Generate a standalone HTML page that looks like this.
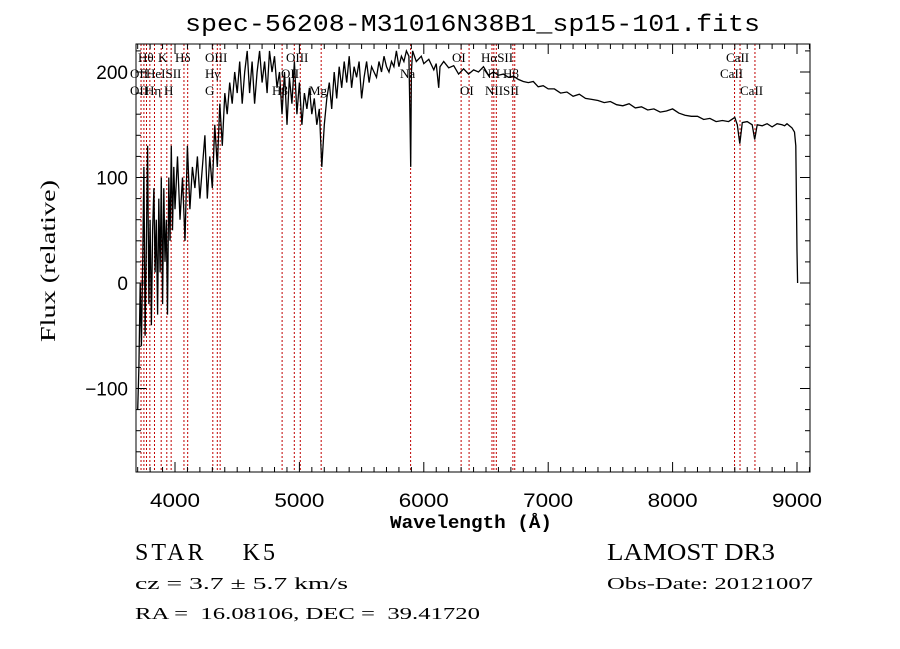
<!DOCTYPE html>
<html><head><meta charset="utf-8"><style>
body{margin:0;background:#fff;}
svg{display:block;}
.t{font-family:"Liberation Sans",sans-serif;}
.s{font-family:"Liberation Serif",serif;}
.m{font-family:"Liberation Mono",monospace;}
</style></head><body>
<svg id="chart" width="900" height="649" viewBox="0 0 900 649">
<rect width="900" height="649" fill="#fff"/>
<text class="m" x="185" y="31" font-size="24" textLength="575" lengthAdjust="spacingAndGlyphs">spec-56208-M31016N38B1_sp15-101.fits</text>
<g id="lines"></g>
<g id="series"></g>
<g id="axes"></g>
<g id="labels" class="s" font-size="13"></g>
<text class="m" x="390" y="528" font-size="18" font-weight="bold" textLength="162" lengthAdjust="spacingAndGlyphs">Wavelength (Å)</text>
<text class="s" x="0" y="0" font-size="21" textLength="162" lengthAdjust="spacingAndGlyphs" transform="translate(55 342) rotate(-90)">Flux (relative)</text>
<text class="s" x="135" y="560" font-size="24" textLength="140" lengthAdjust="spacing">STAR&#160;&#160;&#160;&#160;K5</text>
<text class="s" x="135" y="589" font-size="17" textLength="213" lengthAdjust="spacingAndGlyphs">cz = 3.7 ± 5.7 km/s</text>
<text class="s" x="135" y="619" font-size="17" textLength="345" lengthAdjust="spacingAndGlyphs">RA =&#160; 16.08106, DEC =&#160; 39.41720</text>
<text class="s" x="607" y="560" font-size="24" textLength="168" lengthAdjust="spacingAndGlyphs">LAMOST DR3</text>
<text class="s" x="607" y="589" font-size="17" textLength="206" lengthAdjust="spacingAndGlyphs">Obs-Date: 20121007</text>
</svg>
<script>
const wavelengths=[3700,3710,3720,3730,3740,3750,3760,3770,3780,3790,3800,3810,3820,3830,3840,3850,3860,3870,3880,3890,3900,3910,3920,3930,3940,3950,3960,3970,3980,3990,4000,4020,4040,4060,4080,4100,4120,4140,4160,4180,4200,4220,4240,4260,4280,4300,4320,4340,4360,4380,4400,4420,4440,4460,4480,4500,4520,4540,4560,4580,4600,4620,4640,4660,4680,4700,4720,4740,4760,4780,4800,4820,4840,4860,4880,4900,4920,4940,4960,4980,5000,5020,5040,5060,5080,5100,5120,5140,5160,5180,5200,5220,5240,5260,5280,5300,5320,5340,5360,5380,5400,5420,5440,5460,5480,5500,5520,5540,5560,5580,5600,5620,5640,5660,5680,5700,5720,5740,5760,5780,5800,5820,5840,5860,5880,5890,5895,5900,5910,5940,5980,6000,6040,6080,6100,6120,6130,6160,6200,6240,6280,6320,6360,6400,6440,6480,6520,6560,6600,6640,6680,6720,6760,6800,6840,6880,6920,6960,7000,7050,7100,7150,7200,7250,7300,7350,7400,7450,7500,7550,7600,7650,7700,7750,7800,7850,7900,7950,8000,8050,8100,8150,8200,8250,8300,8350,8400,8450,8500,8520,8540,8560,8600,8640,8660,8680,8720,8760,8800,8840,8880,8900,8920,8960,8980,8990,9000,9005];
const flux=[-120,-80,0,-60,20,110,-50,40,130,-20,60,-40,50,90,10,60,-30,80,10,100,-20,90,20,60,-30,100,40,130,50,110,70,120,60,100,40,130,70,110,90,120,80,110,140,80,120,90,150,110,170,130,180,160,190,170,200,180,210,170,200,220,180,210,170,200,220,190,210,180,220,200,215,185,200,160,200,150,195,170,210,160,190,150,180,165,185,160,175,150,165,110,150,175,190,165,200,175,205,185,210,190,215,185,205,195,210,175,195,210,190,205,200,195,210,200,215,205,200,210,205,220,205,215,210,220,215,150,110,200,220,210,215,208,212,202,208,185,205,210,204,206,198,203,198,202,200,205,197,200,197,198,195,196,193,191,190,191,186,187,184,184,180,181,177,179,175,174,173,171,172,169,168,170,166,167,164,165,162,163,165,161,159,158,158,155,156,153,154,153,157,150,132,152,153,150,136,150,149,151,148,151,150,149,151,147,143,130,30,0];
const lineWaves=[3727,3750,3771,3798,3835,3889,3934,3969,4072,4102,4304,4340,4363,4861,4959,5007,5175,5894,6300,6364,6548,6563,6583,6716,6731,8498,8542,8662];
const xTicks=[4000,5000,6000,7000,8000,9000];
const yTicks=[-100,0,100,200];
const NS='http://www.w3.org/2000/svg';
const L=136,R=810,T=44,B=472;
const X=w=>175+(w-4000)*(797-175)/5000;
const Y=f=>283-f*1.055;
function mk(tag,attrs,parent){const e=document.createElementNS(NS,tag);for(const k in attrs)e.setAttribute(k,attrs[k]);parent.appendChild(e);return e;}
const gl=document.getElementById('lines');
lineWaves.forEach(w=>{const l=mk('line',{x1:X(w),x2:X(w),y1:T,y2:B,stroke:'#c00000','stroke-width':1,'stroke-dasharray':'2,2'},gl);

});
const gs=document.getElementById('series');
const pts=wavelengths.map((w,i)=>X(w).toFixed(1)+','+Y(flux[i]).toFixed(1)).join(' ');
const pl=mk('polyline',{points:pts,fill:'none',stroke:'#000','stroke-width':1.3},gs);


const ga=document.getElementById('axes');
mk('rect',{x:L,y:T,width:R-L,height:B-T,fill:'none',stroke:'#000','stroke-width':1},ga);
for(let w=3700;w<=9100;w+=100){const x=X(w);if(x<L||x>R)continue;const big=w%1000===0;const h=big?10:5;
mk('line',{x1:x,x2:x,y1:B,y2:B-h,stroke:'#000'},ga);mk('line',{x1:x,x2:x,y1:T,y2:T+h,stroke:'#000'},ga);}
for(let f=-160;f<=220;f+=20){const y=Y(f);if(y<T||y>B)continue;const big=f%100===0;const h=big?10:5;
mk('line',{x1:L,x2:L+h,y1:y,y2:y,stroke:'#000'},ga);mk('line',{x1:R,x2:R-h,y1:y,y2:y,stroke:'#000'},ga);}
xTicks.forEach(w=>{const t=mk('text',{x:X(w)-25,y:B+35,'font-size':19,textLength:50,lengthAdjust:'spacingAndGlyphs',class:'t'},ga);t.textContent=w;

});
yTicks.forEach(f=>{const t=mk('text',{x:L-8,y:Y(f)+7,'font-size':19,'text-anchor':'end',class:'t'},ga);t.textContent=f<0?'\u2212'+(-f):f;

});
const labs=[['Hθ',138,62],['K',158,62],['Hδ',175,62],['OIII',205,62],['OIII',286,62],['OI',452,62],['HαSII',481,62],['CaII',726,62],
['OII',130,78],['HeISII',146,78],['Hγ',205,78],['OII',281,78],['Na',400,78],['NII',482,78],['Hβ',503,78],['CaII',720,78],
['OII',130,95],['Hη',145,95],['H',164,95],['G',205,95],['Hβ',272,95],['Mg',309,95],['OI',460,95],['NIISII',485,95],['CaII',740,95]];
const glb=document.getElementById('labels');
labs.forEach(a=>{const t=mk('text',{x:a[1],y:a[2]},glb);t.textContent=a[0];

});
</script>
</body></html>
